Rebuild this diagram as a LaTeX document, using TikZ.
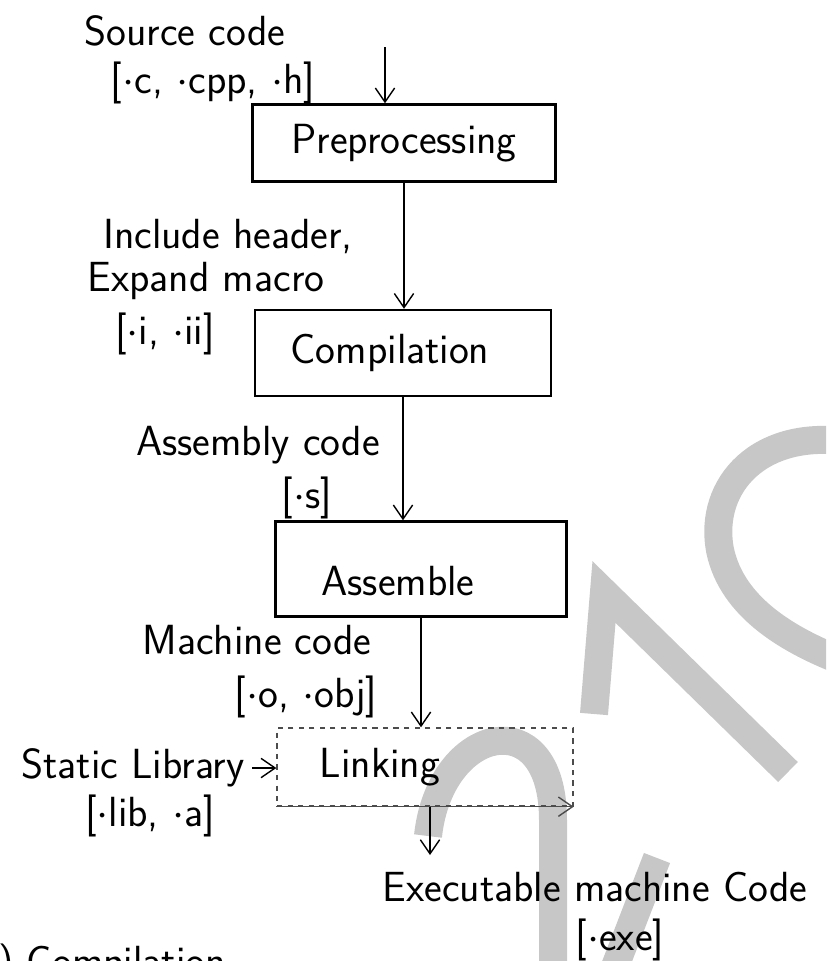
\documentclass[tikz,border=0pt]{standalone}
\usepackage{amsmath,amssymb}
\usepackage{tikz}
\usetikzlibrary{arrows.meta,positioning,calc}

\begin{document}
\begin{tikzpicture}[x=0.02cm,y=-0.02cm,inner sep=0pt,
    >={Straight Barb[length=8pt,width=11pt]},
    font=\sffamily\fontsize{24}{28}\selectfont]
      % Styles
      \tikzset{stage/.style={draw,line width=1.4pt},
               linkbox/.style={draw,black!70,dashed,line width=0.8pt},
               flow/.style={->,line width=0.8pt},
               wmark/.style={black!22,line width=0.56cm}}

      \path[use as bounding box,clip] (0,0) rectangle (826,961);

      % grey watermark behind the chart
      \draw[wmark] (428,836) .. controls (440,725) and (553,700) .. (553,820) -- (553,990);
      \draw[wmark] (657,858) -- (606,990);
      \draw[wmark] (594,714) -- (604,592) -- (788,772);
      \draw[wmark] (850,442) .. controls (760,428) and (708,485) .. (720,550)
                   .. controls (732,608) and (790,642) .. (850,664);

      % stage boxes
      \node[stage,minimum width=6.06cm,minimum height=1.54cm] (prep) at (404,143) {Preprocessing};
      \node[stage,minimum width=5.92cm,minimum height=1.72cm,
            label={[xshift=-0.26cm]center:Compilation}] (comp) at (403,353) {};
      \node[stage,minimum width=5.82cm,minimum height=1.9cm,
            label={[xshift=-0.46cm,yshift=-0.24cm]center:Assemble}] (asm) at (421,569) {};
      \node[linkbox,minimum width=5.92cm,minimum height=1.56cm,
            label={[xshift=-0.9cm]center:Linking}] (link) at (425,767) {};

      % file types between the stages
      \node (src) at (185,31) {Source code};
      \node (srcext) at (213,83) {[$\cdot$c, $\cdot$cpp, $\cdot$h]};
      \node (inc) at (228,236) {Include header,};
      \node (expand) at (206,281) {Expand macro};
      \node (iext) at (165,334) {[$\cdot$i, $\cdot$ii]};
      \node (asmcode) at (258,445) {Assembly code};
      \node (sext) at (307,498) {[$\cdot$s]};
      \node (mcode) at (257,640) {Machine code};
      \node (oext) at (306,697) {[$\cdot$o, $\cdot$obj]};
      \node[anchor=east] (lib) at (245,768) {Static Library};
      \node (libext) at (150,816) {[$\cdot$lib, $\cdot$a]};
      \node (exe) at (595,887) {Executable machine Code};
      \node (exeext) at (620,940) {[$\cdot$exe]};
      \node[anchor=north west] (next) at (-2,944) {) Compilation};

      % arrows
      \coordinate (srcin) at (385,47);
      \coordinate (exein) at (430,855);
      \draw[flow] (srcin) -- (srcin |- prep.north);
      \draw[flow] (prep.south) -- (prep.south |- comp.north);
      \draw[flow] (comp.south) -- (comp.south |- asm.north);
      \draw[flow] (asm.south) -- (asm.south |- link.north);
      \draw[flow] ([xshift=4pt]lib.east) -- (lib.east -| link.west);
      \draw[flow,black!70] (link.south west) -- (link.south east);
      \draw[flow] (link.south -| exein) -- (exein);
    \end{tikzpicture}
\end{document}
